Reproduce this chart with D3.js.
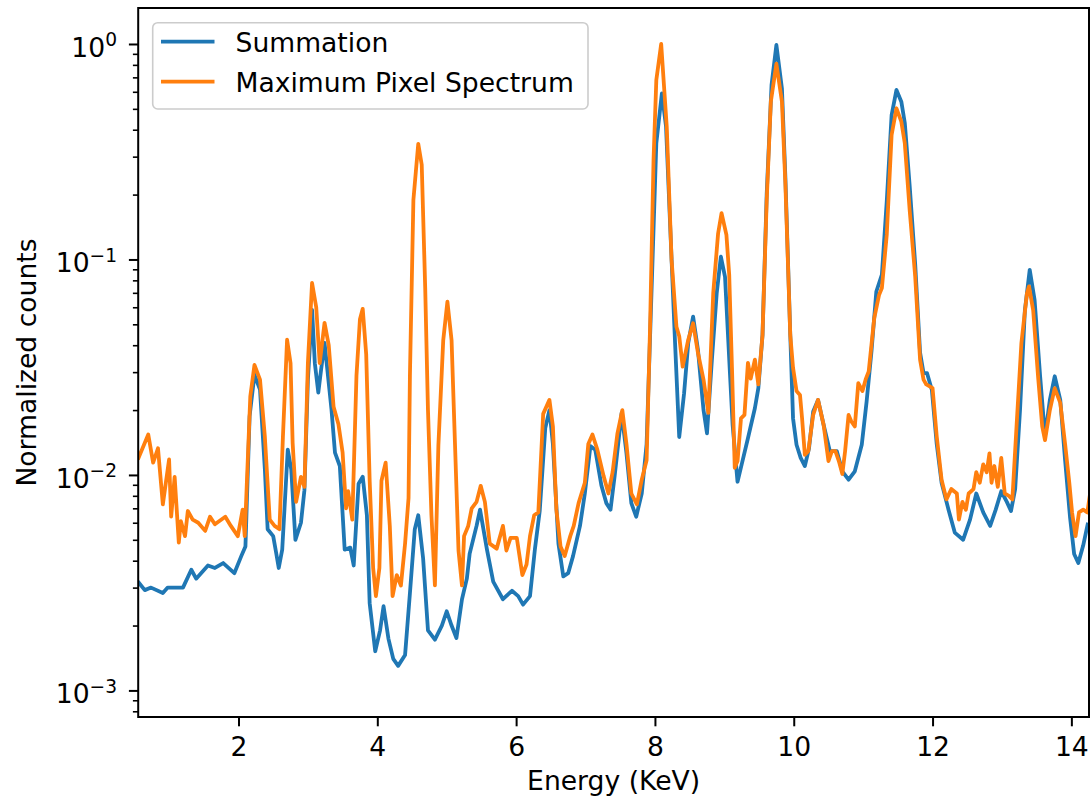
<!DOCTYPE html>
<html>
<head>
<meta charset="utf-8">
<script src="https://cdn.jsdelivr.net/npm/d3@7"></script>
<style>
  body { margin: 0; background: #fff; }
  #chart { width: 1092px; height: 802px; }
  text { font-family: "DejaVu Sans", sans-serif; fill: #000; }
</style>
</head>
<body>
<div id="chart"></div>
<script>
// DATA
const sumEnergy = [
  0.55, 0.65, 0.74, 0.91, 0.98, 1.20, 1.32, 1.39, 1.56, 1.66, 1.78, 1.94, 2.04, 2.10, 2.16, 2.23,
  2.31, 2.38, 2.42, 2.50, 2.54, 2.58, 2.63, 2.71, 2.76, 2.82, 2.90, 2.95, 3.00, 3.06, 3.10, 3.15,
  3.19, 3.24, 3.34, 3.39, 3.46, 3.53, 3.61, 3.66, 3.73, 3.79, 3.85, 3.89, 3.97, 4.04, 4.09, 4.16,
  4.23, 4.30, 4.40, 4.47, 4.54, 4.59, 4.66, 4.73, 4.83, 4.93, 5.00, 5.07, 5.14, 5.22, 5.29, 5.33,
  5.43, 5.48, 5.58, 5.67, 5.81, 5.94, 6.03, 6.10, 6.20, 6.27, 6.34, 6.42, 6.48, 6.53, 6.61, 6.68,
  6.75, 6.82, 6.92, 6.99, 7.07, 7.14, 7.23, 7.30, 7.36, 7.42, 7.52, 7.59, 7.66, 7.73, 7.81, 7.88,
  7.95, 8.02, 8.10, 8.16, 8.23, 8.29, 8.35, 8.42, 8.48, 8.55, 8.62, 8.70, 8.75, 8.82, 8.89, 8.95,
  9.01, 9.08, 9.12, 9.19, 9.25, 9.34, 9.44, 9.49, 9.55, 9.61, 9.68, 9.75, 9.83, 9.88, 9.95, 9.99,
  10.04, 10.10, 10.16, 10.22, 10.28, 10.35, 10.43, 10.52, 10.62, 10.70, 10.79, 10.88, 10.98, 11.05, 11.12, 11.19,
  11.27, 11.34, 11.41, 11.48, 11.55, 11.60, 11.67, 11.75, 11.82, 11.87, 11.92, 11.99, 12.06, 12.13, 12.23, 12.32,
  12.44, 12.54, 12.63, 12.73, 12.83, 12.91, 12.99, 13.07, 13.13, 13.19, 13.26, 13.33, 13.40, 13.47, 13.55, 13.62,
  13.69, 13.76, 13.84, 13.91, 13.98, 14.04, 14.10, 14.17, 14.24
];
const sumCounts = [
  0.0032, 0.00292, 0.0030, 0.00283, 0.0030, 0.0030, 0.00363, 0.0033, 0.0038, 0.0037, 0.0039, 0.0035, 0.0042, 0.00466, 0.0187, 0.0292,
  0.0249, 0.0106, 0.0056, 0.0052, 0.0044, 0.0037, 0.0045, 0.0131, 0.0106, 0.0050, 0.0060, 0.0085, 0.0277, 0.0584, 0.033, 0.0241,
  0.0308, 0.041, 0.0201, 0.0127, 0.011, 0.0045, 0.0046, 0.0038, 0.0091, 0.0098, 0.0065, 0.00254, 0.00152, 0.0019, 0.00246, 0.00174,
  0.0014, 0.0013, 0.00146, 0.00283, 0.0056, 0.0065, 0.0041, 0.0019, 0.00172, 0.0020, 0.00233, 0.0020, 0.00175, 0.00265, 0.0033, 0.0043,
  0.0058, 0.0069, 0.0045, 0.0032, 0.00265, 0.0029, 0.00274, 0.0025, 0.00274, 0.0045, 0.0068, 0.0165, 0.020, 0.0139, 0.0048, 0.00338,
  0.0035, 0.0042, 0.0058, 0.0082, 0.0136, 0.0131, 0.0089, 0.0074, 0.0069, 0.0099, 0.0194, 0.0126, 0.0074, 0.0064, 0.0082, 0.0139,
  0.0697, 0.346, 0.59, 0.414, 0.119, 0.041, 0.015, 0.0239, 0.041, 0.0543, 0.038, 0.020, 0.0156, 0.034, 0.0697, 0.103,
  0.083, 0.030, 0.017, 0.0093, 0.0112, 0.0148, 0.0204, 0.0253, 0.0446, 0.2, 0.645, 0.99, 0.62, 0.238, 0.0446, 0.0183,
  0.0138, 0.0120, 0.011, 0.0133, 0.0197, 0.0223, 0.0171, 0.0129, 0.0129, 0.0104, 0.0095, 0.0104, 0.0138, 0.0219, 0.0375, 0.071,
  0.085, 0.186, 0.468, 0.612, 0.54, 0.43, 0.22, 0.095, 0.037, 0.0297, 0.0297, 0.0248, 0.0139, 0.0092, 0.0069, 0.0054,
  0.0050, 0.0062, 0.0082, 0.0067, 0.0058, 0.0069, 0.0084, 0.0075, 0.0068, 0.0086, 0.020, 0.058, 0.0895, 0.065, 0.0287, 0.0151,
  0.0223, 0.0287, 0.0223, 0.0117, 0.0064, 0.0043, 0.0039, 0.0047, 0.0060
];
const maxEnergy = [
  0.55, 0.70, 0.77, 0.84, 0.91, 1.00, 1.03, 1.08, 1.14, 1.17, 1.23, 1.27, 1.34, 1.42, 1.52, 1.59,
  1.66, 1.81, 1.89, 1.99, 2.06, 2.09, 2.17, 2.23, 2.31, 2.38, 2.45, 2.52, 2.59, 2.64, 2.70, 2.75,
  2.78, 2.83, 2.90, 2.95, 3.00, 3.06, 3.12, 3.17, 3.24, 3.30, 3.37, 3.44, 3.50, 3.55, 3.58, 3.64,
  3.70, 3.75, 3.79, 3.84, 3.89, 3.94, 3.98, 4.03, 4.06, 4.12, 4.18, 4.22, 4.28, 4.34, 4.40, 4.45,
  4.47, 4.52, 4.59, 4.64, 4.69, 4.73, 4.78, 4.83, 4.88, 4.95, 5.01, 5.07, 5.12, 5.17, 5.22, 5.25,
  5.31, 5.36, 5.43, 5.49, 5.55, 5.62, 5.72, 5.81, 5.86, 5.92, 6.01, 6.09, 6.15, 6.20, 6.26, 6.32,
  6.39, 6.48, 6.53, 6.58, 6.64, 6.70, 6.78, 6.83, 6.90, 6.99, 7.04, 7.10, 7.17, 7.26, 7.33, 7.39,
  7.46, 7.53, 7.59, 7.66, 7.74, 7.81, 7.88, 7.93, 7.98, 8.02, 8.09, 8.17, 8.24, 8.31, 8.35, 8.40,
  8.48, 8.55, 8.62, 8.70, 8.77, 8.84, 8.91, 8.96, 9.03, 9.07, 9.11, 9.15, 9.19, 9.24, 9.29, 9.34,
  9.38, 9.44, 9.49, 9.55, 9.61, 9.67, 9.75, 9.83, 9.88, 9.95, 9.99, 10.04, 10.09, 10.12, 10.16, 10.21,
  10.28, 10.35, 10.43, 10.50, 10.55, 10.60, 10.65, 10.70, 10.74, 10.79, 10.83, 10.88, 10.93, 10.99, 11.04, 11.08,
  11.16, 11.23, 11.27, 11.34, 11.41, 11.48, 11.55, 11.60, 11.67, 11.75, 11.82, 11.87, 11.91, 12.00, 12.06, 12.13,
  12.20, 12.27, 12.35, 12.38, 12.43, 12.48, 12.52, 12.59, 12.63, 12.68, 12.73, 12.78, 12.82, 12.85, 12.89, 12.94,
  12.99, 13.04, 13.10, 13.15, 13.21, 13.28, 13.36, 13.39, 13.45, 13.52, 13.58, 13.62, 13.69, 13.76, 13.84, 13.91,
  13.97, 14.01, 14.06, 14.11, 14.17, 14.23, 14.27
];
const maxCounts = [
  0.0118, 0.0154, 0.0114, 0.0133, 0.0073, 0.0118, 0.0064, 0.0098, 0.00485, 0.0061, 0.0052, 0.0068, 0.0062, 0.0060, 0.0055, 0.0064,
  0.0059, 0.0064, 0.0058, 0.0052, 0.0069, 0.0052, 0.0231, 0.0324, 0.0277, 0.015, 0.0062, 0.0058, 0.0056, 0.015, 0.0424, 0.033,
  0.0141, 0.0075, 0.0098, 0.0088, 0.033, 0.0778, 0.060, 0.033, 0.0508, 0.040, 0.0207, 0.0172, 0.0127, 0.0070, 0.0084, 0.0062,
  0.029, 0.0528, 0.059, 0.0363, 0.0094, 0.0037, 0.00274, 0.0037, 0.0094, 0.0114, 0.0058, 0.00274, 0.00343, 0.00307, 0.0048, 0.0078,
  0.029, 0.189, 0.344, 0.275, 0.074, 0.020, 0.0065, 0.00307, 0.0137, 0.0422, 0.0637, 0.0422, 0.0137, 0.00446, 0.00307, 0.0052,
  0.0058, 0.0070, 0.0075, 0.0089, 0.0075, 0.0048, 0.00455, 0.0058, 0.00446, 0.0051, 0.0051, 0.00343, 0.00384, 0.0052, 0.0065, 0.0067,
  0.0192, 0.0223, 0.0168, 0.0069, 0.00466, 0.0042, 0.0052, 0.0058, 0.0074, 0.0092, 0.0139, 0.0154, 0.0131, 0.0099, 0.0082, 0.0103,
  0.0156, 0.020, 0.0139, 0.0082, 0.0073, 0.0095, 0.0117, 0.0487, 0.29, 0.68, 1.0, 0.414, 0.0995, 0.0487, 0.044, 0.0318,
  0.0424, 0.0506, 0.0368, 0.0277, 0.0194, 0.0697, 0.132, 0.164, 0.13, 0.085, 0.0314, 0.0108, 0.0116, 0.0183, 0.019, 0.0331,
  0.028, 0.0343, 0.0263, 0.0446, 0.186, 0.54, 0.81, 0.54, 0.222, 0.0446, 0.0314, 0.0245, 0.0235, 0.0183, 0.0124, 0.0129,
  0.019, 0.0223, 0.0171, 0.0116, 0.0129, 0.0129, 0.0116, 0.0101, 0.0129, 0.019, 0.0177, 0.0168, 0.0267, 0.0245, 0.028, 0.0302,
  0.0535, 0.0686, 0.0737, 0.13, 0.378, 0.503, 0.436, 0.346, 0.17, 0.0833, 0.0343, 0.0277, 0.0263, 0.0253, 0.0151, 0.0095,
  0.0077, 0.0086, 0.0082, 0.0062, 0.0075, 0.0069, 0.0082, 0.0086, 0.0103, 0.0092, 0.0112, 0.0103, 0.0126, 0.0092, 0.0110, 0.0088,
  0.0120, 0.0082, 0.0080, 0.0077, 0.0168, 0.0409, 0.0697, 0.075, 0.058, 0.0287, 0.0168, 0.0145, 0.020, 0.0253, 0.0216, 0.0139,
  0.0092, 0.0067, 0.0052, 0.0067, 0.0069, 0.0067, 0.0082
];
const xTickValues = [2, 4, 6, 8, 10, 12, 14];
const yTickExponents = [0, -1, -2, -3];
const seriesNames = ["Summation", "Maximum Pixel Spectrum"];
const seriesColors = ["#1f77b4", "#ff7f0e"];

const spectrumChart = {
    target: undefined,      //defined in this.init()
    width: 1092,
    height: 802,
    margin: { top: 8, right: 3, bottom: 85, left: 138.2 },
    xLimits: [0.555, 14.254],
    yLimits: [Math.pow(10, -3.1234), Math.pow(10, 0.167)],
    fontSize: 26.6,


// SETUP
setup() {
    this.svg = this.target
        .append("svg")
        .attr("width", this.width).attr("height", this.height);

    this.innerW = this.width - this.margin.left - this.margin.right;
    this.innerH = this.height - this.margin.top - this.margin.bottom;

    this.x = d3.scaleLinear().domain(this.xLimits).range([0, this.innerW]);
    this.y = d3.scaleLog().domain(this.yLimits).range([this.innerH, 0]);

    this.g = this.svg.append("g")
        .attr("transform", "translate(" + this.margin.left + "," + this.margin.top + ")");

    this.g.append("clipPath").attr("id", "plot-clip")
        .append("rect")
        .attr("width", this.innerW).attr("height", this.innerH);
},


// DRAWING
drawAxes() {
    var x = this.x, y = this.y, fs = this.fontSize;

    // X AXIS
    var xAxis = this.g.append("g")
        .attr("class", "axis axis--x")
        .attr("transform", "translate(0," + this.innerH + ")")
        .call(d3.axisBottom(x).tickValues(xTickValues).tickSize(9.3).tickPadding(10.8).tickFormat(d3.format("d")));
    xAxis.select(".domain").remove();
    xAxis.selectAll(".tick line").attr("stroke", "#000").attr("stroke-width", 2);
    xAxis.selectAll(".tick text").attr("font-size", fs + "px").attr("fill", "#000")
        .style("font-family", '"DejaVu Sans", sans-serif');

    // Y AXIS - minor ticks
    var minors = [];
    for (var e = -4; e <= 0; e++) {
        for (var k = 2; k <= 9; k++) {
            var v = k * Math.pow(10, e);
            if (v >= this.yLimits[0] && v <= this.yLimits[1]) minors.push(v);
        }
    }
    var yMinor = this.g.append("g")
        .attr("class", "axis axis--y-minor")
        .call(d3.axisLeft(y).tickValues(minors).tickSize(5.3).tickFormat(""));
    yMinor.select(".domain").remove();
    yMinor.selectAll(".tick line").attr("stroke", "#000").attr("stroke-width", 1.6);

    // Y AXIS - major ticks with 10^n labels
    var yMajor = this.g.append("g")
        .attr("class", "axis axis--y")
        .call(d3.axisLeft(y)
            .tickValues(yTickExponents.map(function (p) { return Math.pow(10, p); }))
            .tickSize(9.3).tickPadding(11.9).tickFormat(""));
    yMajor.select(".domain").remove();
    yMajor.selectAll(".tick line").attr("stroke", "#000").attr("stroke-width", 2);
    yMajor.selectAll(".tick text")
        .attr("dy", "0.47em")
        .attr("font-size", fs + "px").attr("fill", "#000")
        .style("font-family", '"DejaVu Sans", sans-serif')
        .each(function (d) {
            var t = d3.select(this);
            var p = Math.round(Math.log10(d));
            t.append("tspan").text("10");
            t.append("tspan")
                .attr("font-size", (fs * 0.7) + "px")
                .attr("dy", -10.6)
                .text(p < 0 ? "\u2212" + Math.abs(p) : String(p));
        });

    // LABELS
    this.svg.append("text")
        .attr("x", this.margin.left + this.innerW / 2).attr("y", 790)
        .attr("text-anchor", "middle")
        .attr("font-size", fs + "px")
        .text("Energy (KeV)");

    this.svg.append("text")
        .attr("transform", "translate(36," + (this.margin.top + this.innerH / 2) + ") rotate(-90)")
        .attr("text-anchor", "middle")
        .attr("font-size", fs + "px")
        .text("Normalized counts");
},

drawLines() {
    var x = this.x, y = this.y;
    var line = d3.line()
        .x(function (d) { return x(d[0]); })
        .y(function (d) { return y(d[1]); });

    var series = [d3.zip(sumEnergy, sumCounts), d3.zip(maxEnergy, maxCounts)];

    this.g.append("g").attr("clip-path", "url(#plot-clip)")
        .selectAll(".spectrum")
        .data(series)
        .enter().append("path")
        .attr("class", "spectrum")
        .attr("fill", "none")
        .attr("stroke", function (d, i) { return seriesColors[i]; })
        .attr("stroke-width", 3.8)
        .attr("stroke-linejoin", "round")
        .attr("d", line);

    // FRAME
    this.g.append("rect")
        .attr("width", this.innerW).attr("height", this.innerH)
        .attr("fill", "none").attr("stroke", "#000").attr("stroke-width", 2);
},

drawLegend() {
    var fs = this.fontSize;
    var lg = this.svg.append("g").attr("class", "legend");

    lg.append("rect")
        .attr("x", 152.7).attr("y", 22.7)
        .attr("width", 435.3).attr("height", 86.3)
        .attr("rx", 5).attr("ry", 5)
        .attr("fill", "#fff").attr("fill-opacity", 0.8)
        .attr("stroke", "#cccccc").attr("stroke-width", 1.6);

    var rows = lg.selectAll(".legend-row")
        .data(seriesNames)
        .enter().append("g")
        .attr("class", "legend-row")
        .attr("transform", function (d, i) { return "translate(0," + (41.7 + i * 40) + ")"; });

    rows.append("line")
        .attr("x1", 161).attr("x2", 214.5)
        .attr("stroke", function (d, i) { return seriesColors[i]; })
        .attr("stroke-width", 3.8);

    rows.append("text")
        .attr("x", 235.5).attr("y", 10)
        .attr("font-size", fs + "px")
        .text(function (d) { return d; });
},

// START!
init() {
    this.target = d3.select("#chart");
    this.setup();
    this.drawLines();
    this.drawAxes();
    this.drawLegend();
}
};

spectrumChart.init();
</script>
</body>
</html>
